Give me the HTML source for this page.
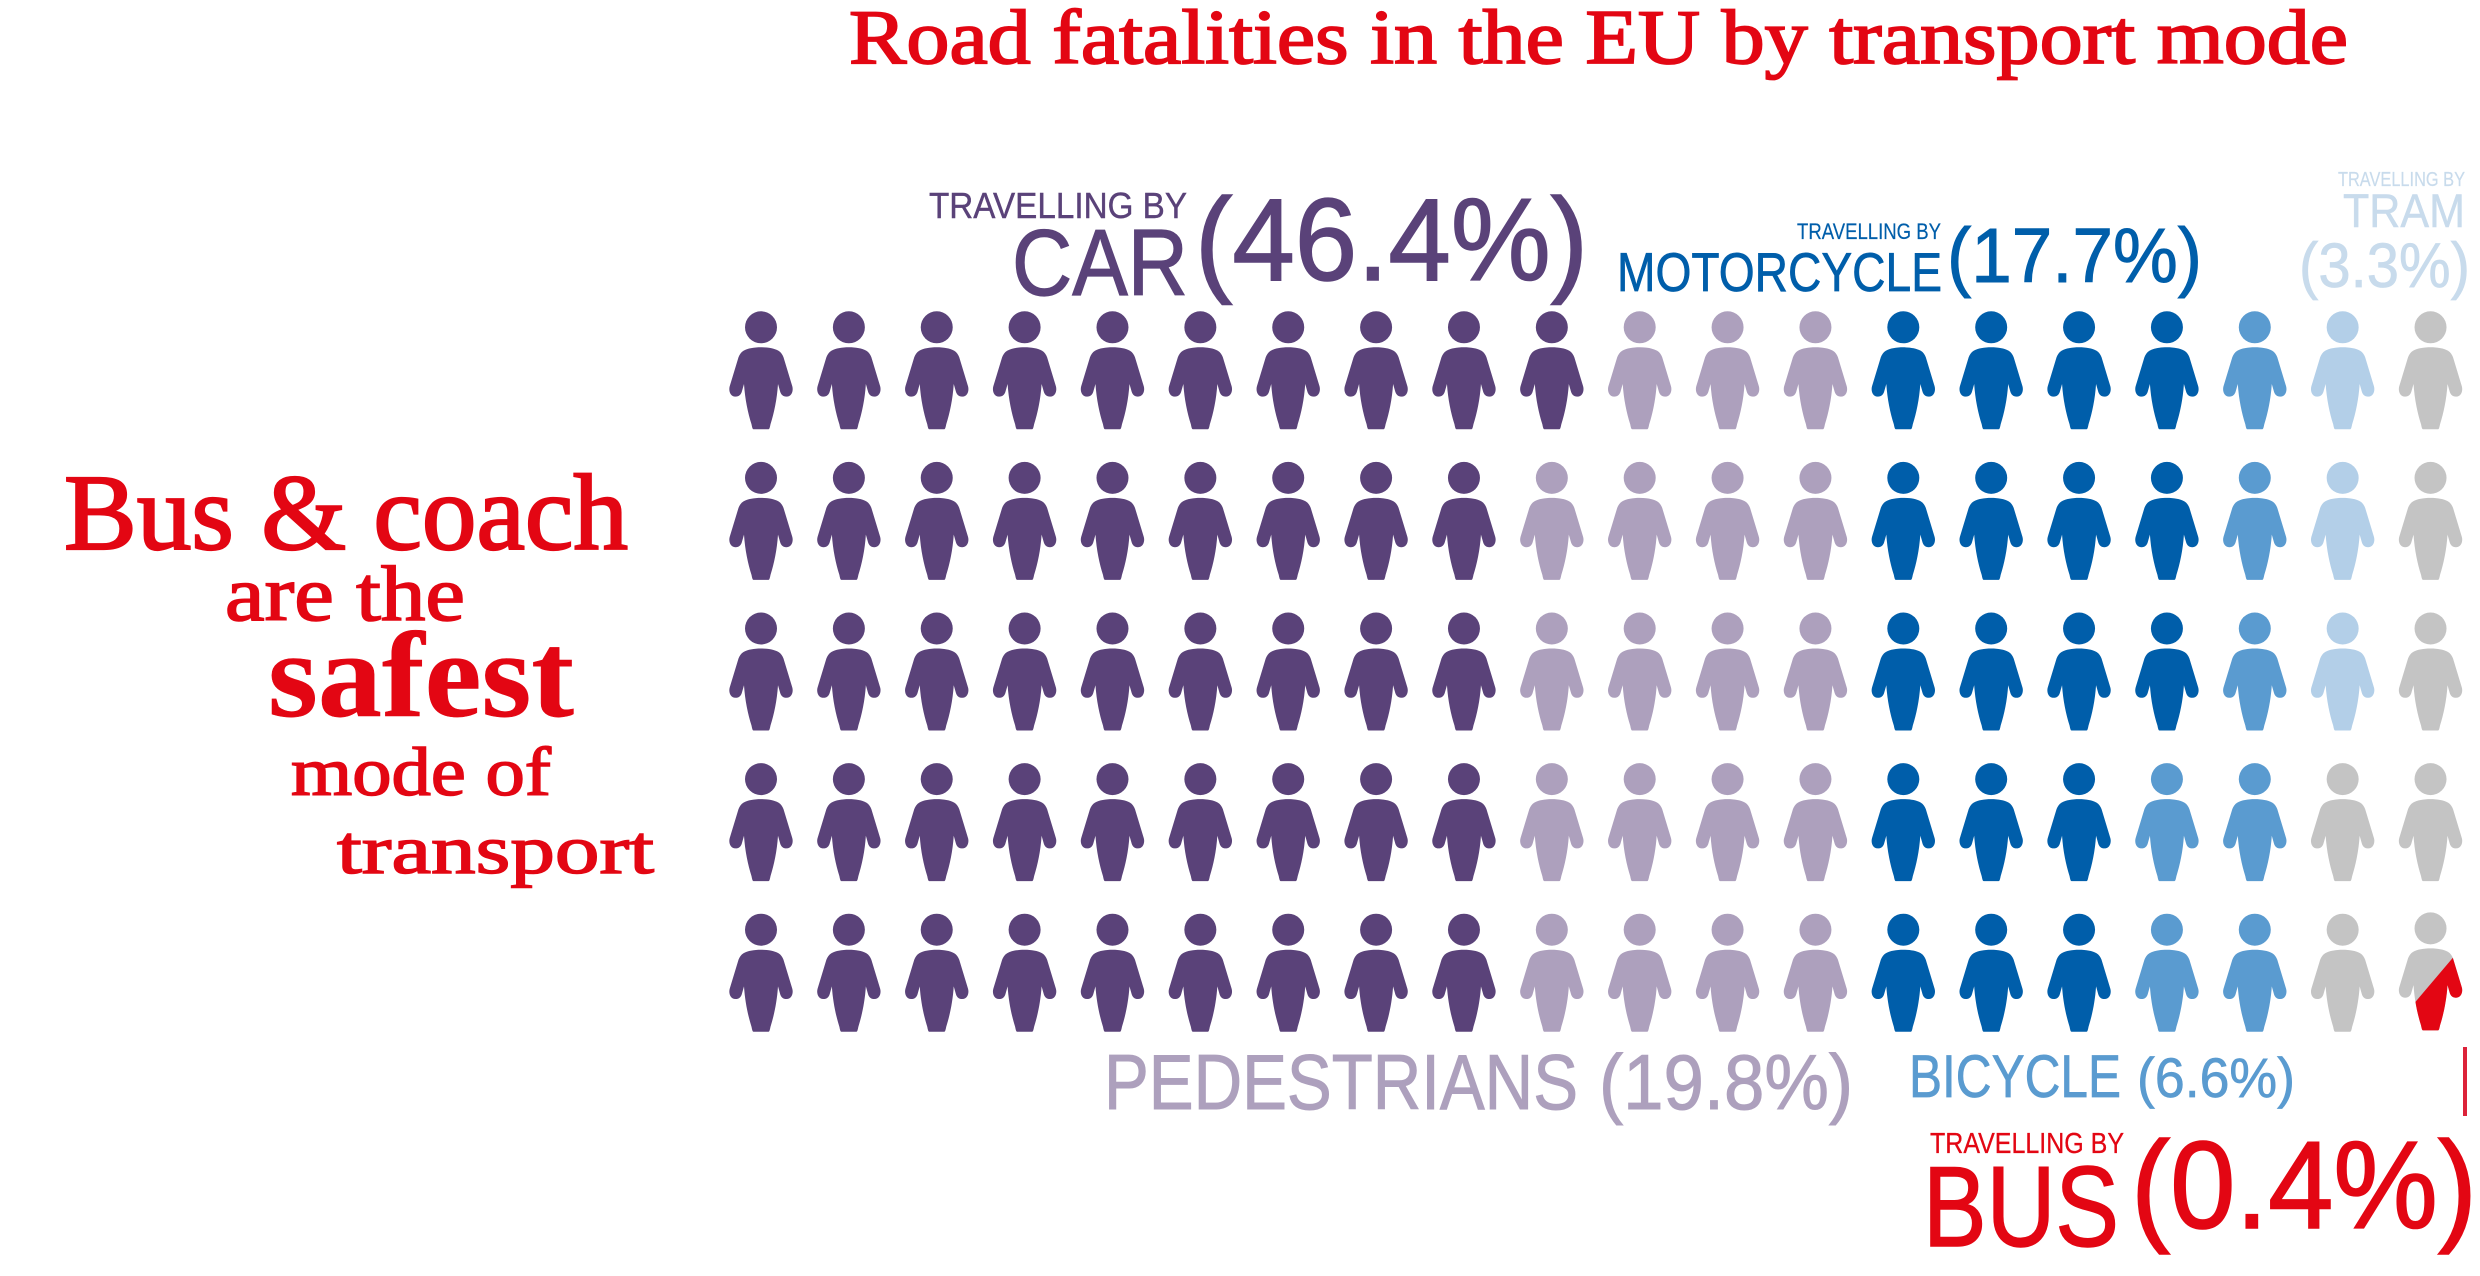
<!DOCTYPE html>
<html lang="en">
<head>
<meta charset="utf-8">
<title>Road fatalities in the EU by transport mode</title>
<style>
  html, body { margin: 0; padding: 0; background: #ffffff; }
  svg { display: block; }
  .slab { font-family: "Liberation Serif", serif; fill: #e30613; stroke: #e30613; }
  .cond { font-family: "Liberation Sans", sans-serif; }
</style>
</head>
<body>
<svg id="chart" xmlns="http://www.w3.org/2000/svg" width="2480" height="1276" viewBox="0 0 2480 1276">
  <rect x="0" y="0" width="2480" height="1276" fill="#ffffff"/>

  <text class="slab" x="849" y="63" font-size="77" stroke-width="1.8" textLength="1499" lengthAdjust="spacingAndGlyphs">Road fatalities in the EU by transport mode</text>

  <g>
    <text class="slab" x="64" y="549" font-size="108" stroke-width="2.2" textLength="564" lengthAdjust="spacingAndGlyphs">Bus &amp; coach</text>
    <text class="slab" x="225" y="620" font-size="78" stroke-width="1.6" textLength="240" lengthAdjust="spacingAndGlyphs">are the</text>
    <text class="slab" x="268" y="716" font-size="122" font-weight="700" stroke-width="0.5" textLength="306" lengthAdjust="spacingAndGlyphs">safest</text>
    <text class="slab" x="291" y="795" font-size="69" stroke-width="1.5" textLength="260" lengthAdjust="spacingAndGlyphs">mode of</text>
    <text class="slab" x="337" y="873" font-size="69" stroke-width="1.5" textLength="317" lengthAdjust="spacingAndGlyphs">transport</text>
  </g>

  <g class="cond" fill="#5a4279" stroke="#5a4279">
    <text x="929" y="218" font-size="36" stroke-width="0.4" textLength="258" lengthAdjust="spacingAndGlyphs">TRAVELLING BY</text>
    <text x="1012" y="295" font-size="94" stroke-width="1.2" textLength="176" lengthAdjust="spacingAndGlyphs">CAR</text>
    <text id="share-car" x="1195" y="280" font-size="117" stroke-width="1.5" textLength="393" lengthAdjust="spacingAndGlyphs"></text>
  </g>

  <g class="cond" fill="#005eaa" stroke="#005eaa">
    <text x="1797" y="239" font-size="22.5" stroke-width="0.2" textLength="144" lengthAdjust="spacingAndGlyphs">TRAVELLING BY</text>
    <text x="1617" y="291" font-size="55" stroke-width="0.7" textLength="325" lengthAdjust="spacingAndGlyphs">MOTORCYCLE</text>
    <text id="share-motorcycle" x="1947" y="282" font-size="77" stroke-width="1" textLength="255" lengthAdjust="spacingAndGlyphs"></text>
  </g>

  <g class="cond" fill="#c8dbec" stroke="#c8dbec">
    <text x="2338" y="186" font-size="20" stroke-width="0.2" textLength="127" lengthAdjust="spacingAndGlyphs">TRAVELLING BY</text>
    <text x="2343" y="227" font-size="47" stroke-width="0.5" textLength="122" lengthAdjust="spacingAndGlyphs">TRAM</text>
    <text id="share-tram" x="2299" y="287" font-size="63" stroke-width="0.7" textLength="171" lengthAdjust="spacingAndGlyphs"></text>
  </g>

  <g id="pictogram-grid"></g>

  <g class="cond" fill="#ada0bd" stroke="#ada0bd">
    <text x="1104" y="1109" font-size="78" stroke-width="1" textLength="474" lengthAdjust="spacingAndGlyphs">PEDESTRIANS</text>
    <text id="share-pedestrians" x="1599" y="1109" font-size="78" stroke-width="1" textLength="254" lengthAdjust="spacingAndGlyphs"></text>
  </g>

  <g class="cond" fill="#5a9bd0" stroke="#5a9bd0">
    <text x="1909" y="1097" font-size="60" stroke-width="0.7" textLength="212" lengthAdjust="spacingAndGlyphs">BICYCLE</text>
    <text id="share-bicycle" x="2137" y="1097" font-size="56" stroke-width="0.7" textLength="158" lengthAdjust="spacingAndGlyphs"></text>
  </g>

  <rect x="2463" y="1047" width="4" height="69" fill="#dc2239"/>

  <g class="cond" fill="#e30613" stroke="#e30613">
    <text x="1930" y="1153" font-size="29" stroke-width="0.3" textLength="194" lengthAdjust="spacingAndGlyphs">TRAVELLING BY</text>
    <text x="1923" y="1246" font-size="114" stroke-width="1.5" textLength="196" lengthAdjust="spacingAndGlyphs">BUS</text>
    <text id="share-bus" x="2131" y="1228" font-size="124" stroke-width="1.6" textLength="346" lengthAdjust="spacingAndGlyphs"></text>
  </g>
</svg>

<script>
// Chart data: one pictogram is one percent of fatalities.
const categories = ['car', 'pedestrians', 'motorcycle', 'bicycle', 'tram', 'other'];
const pictogramCounts = [46, 19, 18, 7, 3, 7];
const labelledShares = [46.4, 19.8, 17.7, 6.6, 3.3];
const busShare = [0.4];
const categoryColors = ['#5a4279', '#ada0bd', '#005eaa', '#5a9bd0', '#b3cfe8', '#c4c4c4'];

const SVG_NS = 'http://www.w3.org/2000/svg';
const ROWS = 5;
const COLS = 20;
const RED = '#e30613';

const xAxis = function (col) { return 761 + col * 87.87; };
const yAxis = function (row) { return 327.3 + row * 150.6; };
// Distance of the diagonal cut along its normal, for a fraction of one person.
const cutAxis = function (fraction) { return 78 - 105 * fraction; };

const BODY_PATH = 'M0,20 C-7,20 -13,21 -17.5,23.5 C-20,25 -21.5,27.5 -22.5,30 L-31.3,59 C-32.5,63 -31,69.3 -25.5,69.3 C-22,69.3 -20.2,67.5 -19.2,64.5 L-17,56.7 C-16,72 -13,86 -9.5,97 C-9,99.5 -8.5,102 -7.5,102 L7.5,102 C8.5,102 9,99.5 9.5,97 C13,86 16,72 17,56.7 L19.2,64.5 C20.2,67.5 22,69.3 25.5,69.3 C31,69.3 32.5,63 31.3,59 L22.5,30 C21.5,27.5 20,25 17.5,23.5 C13,21 7,20 0,20 Z';

function drawPerson(parent, x, y, color) {
  const g = document.createElementNS(SVG_NS, 'g');
  g.setAttribute('transform', 'translate(' + x + ' ' + y + ')');
  const head = document.createElementNS(SVG_NS, 'circle');
  head.setAttribute('r', '16');
  head.setAttribute('fill', color);
  const body = document.createElementNS(SVG_NS, 'path');
  body.setAttribute('d', BODY_PATH);
  body.setAttribute('fill', color);
  g.appendChild(head);
  g.appendChild(body);
  parent.appendChild(g);
  return g;
}

function addBusOverlay(person, fraction) {
  const nx = 0.7625;
  const ny = 0.647;
  const d = cutAxis(fraction);
  const px = nx * d;
  const py = ny * d;
  const ux = -ny;
  const uy = nx;
  const far = 400;
  const pts = [
    [px + ux * far, py + uy * far],
    [px - ux * far, py - uy * far],
    [px - ux * far + nx * far, py - uy * far + ny * far],
    [px + ux * far + nx * far, py + uy * far + ny * far]
  ];
  const defs = document.createElementNS(SVG_NS, 'defs');
  const clip = document.createElementNS(SVG_NS, 'clipPath');
  clip.setAttribute('id', 'bus-cut');
  const poly = document.createElementNS(SVG_NS, 'polygon');
  poly.setAttribute('points', pts.map(function (p) { return p[0].toFixed(2) + ',' + p[1].toFixed(2); }).join(' '));
  clip.appendChild(poly);
  defs.appendChild(clip);
  person.appendChild(defs);

  const red = document.createElementNS(SVG_NS, 'g');
  red.setAttribute('clip-path', 'url(#bus-cut)');
  
  
  const head = document.createElementNS(SVG_NS, 'circle');
  head.setAttribute('r', '16');
  head.setAttribute('fill', RED);
  const body = document.createElementNS(SVG_NS, 'path');
  body.setAttribute('d', BODY_PATH);
  body.setAttribute('fill', RED);
  red.appendChild(head);
  red.appendChild(body);
  person.appendChild(red);
}

function shareText(value) {
  return '(' + value.toFixed(1) + '%)';
}

(function render() {
  const grid = document.getElementById('pictogram-grid');
  const sequence = [];
  pictogramCounts.forEach(function (count, c) {
    for (let i = 0; i < count; i++) sequence.push(c);
  });

  // The grid fills column by column, top to bottom.
  sequence.forEach(function (c, i) {
    const col = Math.floor(i / ROWS);
    const row = i % ROWS;
    if (col >= COLS) return;
    const isLast = i === ROWS * COLS - 1;
    const person = drawPerson(grid, xAxis(col), yAxis(row) - (isLast ? 1.3 : 0), categoryColors[c]);
    
    
    if (isLast) {
      addBusOverlay(person, busShare[0]);
    }
  });

  document.getElementById('share-car').textContent = shareText(labelledShares[0]);
  document.getElementById('share-pedestrians').textContent = shareText(labelledShares[1]);
  document.getElementById('share-motorcycle').textContent = shareText(labelledShares[2]);
  document.getElementById('share-bicycle').textContent = shareText(labelledShares[3]);
  document.getElementById('share-tram').textContent = shareText(labelledShares[4]);
  document.getElementById('share-bus').textContent = shareText(busShare[0]);
})();
</script>
</body>
</html>
